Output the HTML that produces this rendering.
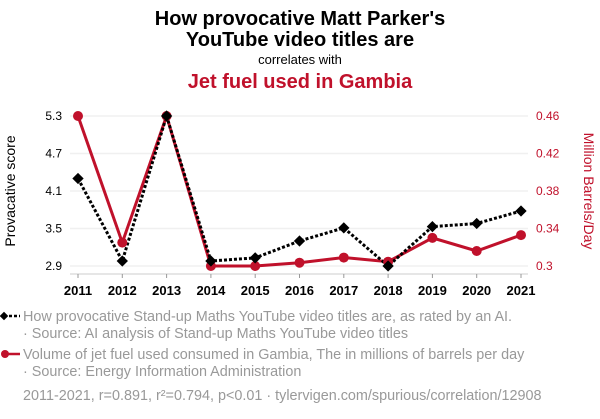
<!DOCTYPE html>
<html><head><meta charset="utf-8"><style>
body{margin:0;background:#fff;width:600px;height:414px;overflow:hidden;font-family:"Liberation Sans",Arial,sans-serif}
</style></head><body>
<svg width="600" height="414" xmlns="http://www.w3.org/2000/svg">
<text x="300" y="25" text-anchor="middle" font-size="20" font-weight="bold">How provocative Matt Parker's</text>
<text x="300" y="46" text-anchor="middle" font-size="20" font-weight="bold">YouTube video titles are</text>
<text x="300" y="64" text-anchor="middle" font-size="13">correlates with</text>
<text x="300" y="88" text-anchor="middle" font-size="20" font-weight="bold" fill="#c0112b">Jet fuel used in Gambia</text>
<g id="grid"></g>
<g id="axes"></g>
<g id="series"></g>
<text transform="translate(15,191) rotate(-90)" text-anchor="middle" font-size="14">Provacative score</text>
<text transform="translate(584,191) rotate(90)" text-anchor="middle" font-size="14" fill="#c0112b">Million Barrels/Day</text>
<g>
<line x1="4" y1="316" x2="20" y2="316" stroke="#000" stroke-width="2.5" stroke-dasharray="3,2"/>
<rect x="1" y="313" width="6" height="6" transform="rotate(45 4 316)" fill="#000"/>
<text x="23" y="321" font-size="14.4" fill="#999">How provocative Stand-up Maths YouTube video titles are, as rated by an AI.</text>
<text x="23" y="338" font-size="14.4" fill="#999"> · Source: AI analysis of Stand-up Maths YouTube video titles</text>
</g>
<g>
<line x1="4" y1="354" x2="20" y2="354" stroke="#c0112b" stroke-width="2.5"/>
<circle cx="5" cy="354" r="4" fill="#c0112b"/>
<text x="23" y="359" font-size="14.4" fill="#999">Volume of jet fuel used consumed in Gambia, The in millions of barrels per day</text>
<text x="23" y="376" font-size="14.4" fill="#999"> · Source: Energy Information Administration</text>
</g>
<text x="23" y="400" font-size="14.4" fill="#999">2011-2021, r=0.891, r²=0.794, p&lt;0.01 · tylervigen.com/spurious/correlation/12908</text>
</svg>
<script>
const years=[2011,2012,2013,2014,2015,2016,2017,2018,2019,2020,2021];
const provScore=[4.30,2.98,5.3,2.98,3.03,3.30,3.51,2.90,3.53,3.58,3.78];
const jetFuel=[0.46,0.325,0.46,0.30,0.30,0.3035,0.309,0.3046,0.330,0.316,0.333];
const leftTicks=[2.9,3.5,4.1,4.7,5.3];
const rightTicks=[0.3,0.34,0.38,0.42,0.46];
const NS="http://www.w3.org/2000/svg";
const x=y=>78+(y-2011)*(521-78)/10;
const yl=v=>266-(v-2.9)*150/2.4;
const yr=v=>266-(v-0.30)*150/0.16;
function mk(t,a,p){const e=document.createElementNS(NS,t);for(const k in a)e.setAttribute(k,a[k]);p.appendChild(e);return e;}
const grid=document.getElementById('grid'),axes=document.getElementById('axes'),ser=document.getElementById('series');
leftTicks.forEach((v,i)=>{
 const g=mk('line',{x1:70,x2:528,y1:yl(v),y2:yl(v),stroke:'#f0f0f0','stroke-width':1.5},grid);
 
 const t=mk('text',{x:62,y:yl(v)+4,'text-anchor':'end','font-size':12},axes);t.textContent=v.toFixed(1);
 
});
rightTicks.forEach(v=>{
 const t=mk('text',{x:536,y:yr(v)+4,'font-size':12,fill:'#c0112b'},axes);t.textContent=String(+v.toFixed(2));
 
});
const ax=mk('line',{x1:70,x2:528,y1:274,y2:274,stroke:'#ccc'},axes);

years.forEach(yv=>{
 mk('line',{x1:x(yv),x2:x(yv),y1:274,y2:278,stroke:'#999'},axes);
 const t=mk('text',{x:x(yv),y:295,'text-anchor':'middle','font-size':13,'font-weight':'bold'},axes);t.textContent=yv;
 
});
const rl=mk('polyline',{points:years.map((yv,i)=>x(yv)+','+yr(jetFuel[i])).join(' '),fill:'none',stroke:'#c0112b','stroke-width':3},ser);

const bl=mk('polyline',{points:years.map((yv,i)=>x(yv)+','+yl(provScore[i])).join(' '),fill:'none',stroke:'#000','stroke-width':3,'stroke-dasharray':'3,2'},ser);

years.forEach((yv,i)=>{
 const c=mk('circle',{cx:x(yv),cy:yr(jetFuel[i]),r:5,fill:'#c0112b'},ser);
 
});
years.forEach((yv,i)=>{
 const X=x(yv),Y=yl(provScore[i]);
 const d=mk('rect',{x:X-4,y:Y-4,width:8,height:8,fill:'#000',transform:`rotate(45 ${X} ${Y})`},ser);
 
});
</script>
</body></html>
